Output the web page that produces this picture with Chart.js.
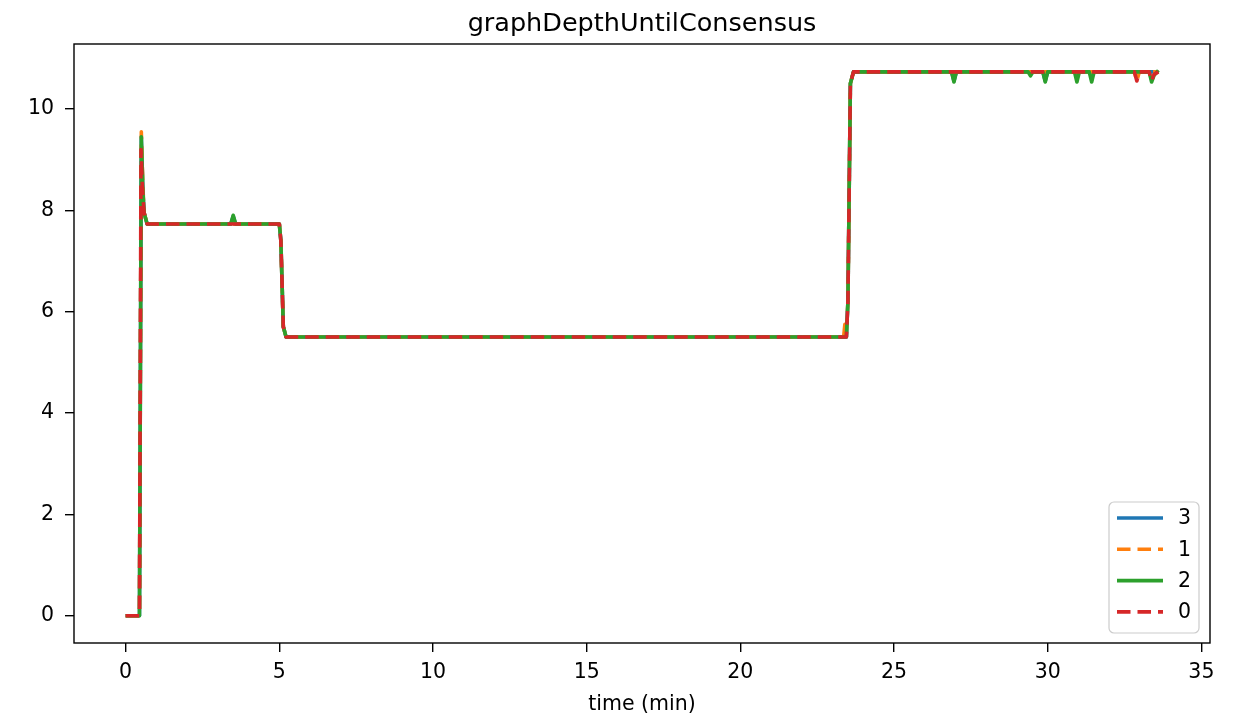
<!DOCTYPE html>
<html>
<head>
<meta charset="utf-8">
<script src="https://cdn.jsdelivr.net/npm/chart.js@4"></script>
<style>
  html, body { margin: 0; padding: 0; background: #fff; }
</style>
</head>
<body>
<canvas id="depthChart" width="1233" height="720"></canvas>
<script>
const chartTitle = "graphDepthUntilConsensus";
const xAxisLabel = "time (min)";
const xTickValues = [0, 5, 10, 15, 20, 25, 30, 35];
const yTickValues = [0, 2, 4, 6, 8, 10];

const seriesLabels = ["3", "1", "2", "0"];
const seriesColors = ["#1f77b4", "#ff7f0e", "#2ca02c", "#d62728"];
const seriesDashed = [false, true, false, true];

// series "3"
const time3 = [0, 0.45, 0.51, 0.56, 0.6, 0.7, 3.42, 3.5, 3.58, 5.0, 5.05, 5.13, 5.22,
  23.45, 23.5, 23.58, 23.68, 26.87, 26.95, 27.03, 29.84, 29.92, 30.0, 33.6];
const depth3 = [0, 0, 9.45, 8.4, 7.95, 7.73, 7.73, 7.88, 7.73, 7.73, 7.4, 5.7, 5.5,
  5.5, 6.2, 10.5, 10.73, 10.73, 10.55, 10.73, 10.73, 10.55, 10.73, 10.73];

// series "1"
const time1 = [0, 0.45, 0.51, 0.56, 0.6, 0.7, 5.0, 5.05, 5.13, 5.22,
  23.36, 23.4, 23.45, 23.5, 23.58, 23.68, 32.82, 32.9, 32.98, 33.6];
const depth1 = [0, 0, 9.55, 8.5, 7.95, 7.73, 7.73, 7.4, 5.7, 5.5,
  5.5, 5.75, 5.6, 6.2, 10.5, 10.73, 10.73, 10.55, 10.73, 10.73];

// series "2"
const time2 = [0, 0.45, 0.51, 0.56, 0.6, 0.7, 3.42, 3.5, 3.58, 5.0, 5.05, 5.13, 5.22,
  23.45, 23.5, 23.58, 23.68, 26.87, 26.95, 27.03, 29.36, 29.44, 29.52, 29.84, 29.92, 30.0,
  30.87, 30.95, 31.03, 31.35, 31.43, 31.51, 33.3, 33.38, 33.46, 33.6];
const depth2 = [0, 0, 9.45, 8.4, 7.95, 7.73, 7.73, 7.9, 7.73, 7.73, 7.4, 5.7, 5.5,
  5.5, 6.2, 10.5, 10.73, 10.73, 10.53, 10.73, 10.73, 10.65, 10.73, 10.73, 10.53, 10.73,
  10.73, 10.53, 10.73, 10.73, 10.53, 10.73, 10.73, 10.53, 10.66, 10.76];

// series "0"
const time0 = [0, 0.45, 0.5, 0.55, 0.6, 0.7, 5.0, 5.05, 5.13, 5.22,
  23.45, 23.5, 23.58, 23.68, 32.82, 32.9, 32.98, 33.3, 33.38, 33.46, 33.6];
const depth0 = [0, 0, 9.2, 8.4, 7.95, 7.73, 7.73, 7.4, 5.7, 5.5,
  5.5, 6.2, 10.5, 10.73, 10.73, 10.55, 10.73, 10.73, 10.55, 10.68, 10.73];

const seriesTimes = [time3, time1, time2, time0];
const seriesDepths = [depth3, depth1, depth2, depth0];

const FONT = "'DejaVu Sans', sans-serif";
const DASH = [13.5, 7];
const LINE_W = 3.6;

function toPoints(times, values) {
  return times.map((t, i) => ({ x: t, y: values[i] }));
}

// title centred over the axes box, like matplotlib
const titlePlugin = {
  id: "axesTitle",
  afterDraw(chart) {
    const a = chart.chartArea;
    const ctx = chart.ctx;
    ctx.save();
    ctx.font = "25.5px " + FONT;
    ctx.fillStyle = "#000";
    ctx.textAlign = "center";
    ctx.textBaseline = "alphabetic";
    ctx.fillText(chartTitle, (a.left + a.right) / 2, 31);
    ctx.restore();
  }
};

// axes frame drawn over the lines
const framePlugin = {
  id: "frame",
  afterDatasetsDraw(chart) {
    const a = chart.chartArea;
    const ctx = chart.ctx;
    ctx.save();
    ctx.strokeStyle = "#000";
    ctx.lineWidth = 1.4;
    ctx.strokeRect(a.left, a.top, a.right - a.left, a.bottom - a.top);
    ctx.restore();
  }
};

// legend box in the lower right corner of the plot
const legendPlugin = {
  id: "boxLegend",
  afterDraw(chart) {
    const ctx = chart.ctx;
    const a = chart.chartArea;
    const boxW = 90, boxH = 131;
    const x0 = a.right - 11 - boxW;
    const y0 = a.bottom - 10 - boxH;
    ctx.save();
    ctx.beginPath();
    ctx.roundRect(x0, y0, boxW, boxH, 5);
    ctx.fillStyle = "rgba(255,255,255,0.8)";
    ctx.fill();
    ctx.strokeStyle = "#cccccc";
    ctx.lineWidth = 1.2;
    ctx.stroke();

    ctx.font = "20.5px " + FONT;
    ctx.textBaseline = "middle";
    ctx.textAlign = "left";
    chart.data.datasets.forEach((ds, i) => {
      const y = y0 + 16 + i * 31.3;
      ctx.beginPath();
      ctx.setLineDash(seriesDashed[i] ? DASH : []);
      ctx.lineCap = "butt";
      ctx.strokeStyle = ds.borderColor;
      ctx.lineWidth = LINE_W;
      ctx.moveTo(x0 + 8, y);
      ctx.lineTo(x0 + 54, y);
      ctx.stroke();
      ctx.setLineDash([]);
      ctx.fillStyle = "#000";
      ctx.fillText(ds.label, x0 + 69, y + 1);
    });
    ctx.restore();
  }
};

const datasets = seriesLabels.map((label, i) => ({
  label: label,
  data: toPoints(seriesTimes[i], seriesDepths[i]),
  borderColor: seriesColors[i],
  backgroundColor: seriesColors[i],
  borderWidth: LINE_W,
  borderDash: seriesDashed[i] ? DASH : [],
  borderCapStyle: "butt",
  borderJoinStyle: "round",
  pointRadius: 0,
  tension: 0,
  fill: false,
  order: seriesLabels.length - 1 - i
}));

new Chart(document.getElementById("depthChart"), {
  type: "line",
  data: { datasets: datasets },
  options: {
    responsive: false,
    animation: false,
    layout: { padding: { left: 0, right: 23, top: 44, bottom: 0 } },
    plugins: {
      legend: { display: false },
      tooltip: { enabled: false },
      title: { display: false }
    },
    scales: {
      x: {
        type: "linear",
        min: -1.68,
        max: 35.28,
        border: { display: false },
        grid: { drawOnChartArea: false, drawTicks: true, tickLength: 9, color: "#000", lineWidth: 1.4 },
        ticks: {
          autoSkip: false,
          maxRotation: 0,
          padding: 8,
          color: "#000",
          font: { family: FONT, size: 20.5 }
        },
        title: {
          display: true,
          text: xAxisLabel,
          color: "#000",
          font: { family: FONT, size: 20.5 },
          padding: { top: 0, bottom: 3 }
        },
        afterBuildTicks(scale) {
          scale.ticks = xTickValues.map(v => ({ value: v }));
        },
        afterFit(scale) {
          scale.height = 77;
        }
      },
      y: {
        type: "linear",
        min: -0.537,
        max: 11.28,
        border: { display: false },
        grid: { drawOnChartArea: false, drawTicks: true, tickLength: 9, color: "#000", lineWidth: 1.4 },
        ticks: {
          autoSkip: false,
          padding: 11,
          color: "#000",
          font: { family: FONT, size: 20.5 }
        },
        afterBuildTicks(scale) {
          scale.ticks = yTickValues.map(v => ({ value: v }));
        },
        afterFit(scale) {
          scale.width = 74;
        }
      }
    }
  },
  plugins: [framePlugin, titlePlugin, legendPlugin]
});
</script>
</body>
</html>
